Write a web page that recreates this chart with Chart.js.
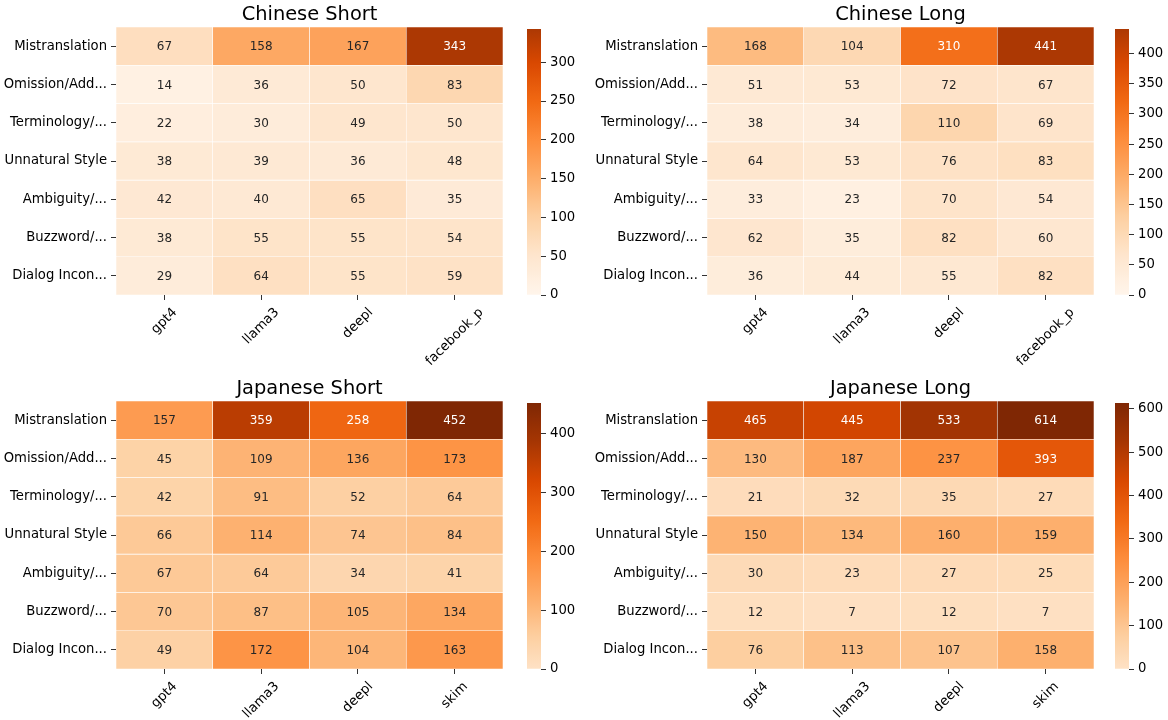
<!DOCTYPE html>
<html>
<head>
<meta charset="utf-8">
<script src="https://cdn.jsdelivr.net/npm/chart.js@4.4.1/dist/chart.umd.min.js"></script>
<style>
  html, body { margin: 0; padding: 0; background: #fff; width: 1168px; height: 720px; overflow: hidden; }
  canvas { position: absolute; }
</style>
</head>
<body>
<script>
// ---- data -------------------------------------------------------------
const errorTypes = ['Mistranslation', 'Omission/Add...', 'Terminology/...', 'Unnatural Style',
                    'Ambiguity/...', 'Buzzword/...', 'Dialog Incon...'];
const systemsZh = ['gpt4', 'llama3', 'deepl', 'facebook_p'];
const systemsJa = ['gpt4', 'llama3', 'deepl', 'skim'];

const chineseShort = [
  [67, 158, 167, 343],
  [14, 36, 50, 83],
  [22, 30, 49, 50],
  [38, 39, 36, 48],
  [42, 40, 65, 35],
  [38, 55, 55, 54],
  [29, 64, 55, 59]
];
const chineseLong = [
  [168, 104, 310, 441],
  [51, 53, 72, 67],
  [38, 34, 110, 69],
  [64, 53, 76, 83],
  [33, 23, 70, 54],
  [62, 35, 82, 60],
  [36, 44, 55, 82]
];
const japaneseShort = [
  [157, 359, 258, 452],
  [45, 109, 136, 173],
  [42, 91, 52, 64],
  [66, 114, 74, 84],
  [67, 64, 34, 41],
  [70, 87, 105, 134],
  [49, 172, 104, 163]
];
const japaneseLong = [
  [465, 445, 533, 614],
  [130, 187, 237, 393],
  [21, 32, 35, 27],
  [150, 134, 160, 159],
  [30, 23, 27, 25],
  [12, 7, 12, 7],
  [76, 113, 107, 158]
];
// colour-bar tick spacing per panel
const colorbarSteps = { chineseShort: 50, chineseLong: 50, japaneseShort: 100, japaneseLong: 100 };

// ---- colour map (sequential oranges) -----------------------------------
const ORANGES = ['#fff5eb', '#fee6ce', '#fdd0a2', '#fdae6b', '#fd8d3c',
                 '#f16913', '#d94801', '#a63603', '#7f2704'].map(h => [
  parseInt(h.slice(1, 3), 16), parseInt(h.slice(3, 5), 16), parseInt(h.slice(5, 7), 16)]);

function cmap(t) {
  t = Math.max(0, Math.min(1, t));
  const s = t * (ORANGES.length - 1);
  const i = Math.min(ORANGES.length - 2, Math.floor(s));
  const f = s - i;
  return ORANGES[i].map((c, k) => c + (ORANGES[i + 1][k] - c) * f);
}
const rgbStr = c => `rgb(${Math.round(c[0])},${Math.round(c[1])},${Math.round(c[2])})`;
function luminance(c) {
  const lin = c.map(v => { v /= 255; return v <= 0.03928 ? v / 12.92 : Math.pow((v + 0.055) / 1.055, 2.4); });
  return 0.2126 * lin[0] + 0.7152 * lin[1] + 0.0722 * lin[2];
}

// ---- layout constants --------------------------------------------------
const FONT = "'DejaVu Sans', sans-serif";
const TICK_SIZE = 13.2, CELL_SIZE = 12;
const Y_AXIS_W = 116, TITLE_H = 27, PAD_R = 12, CB_AXIS_W = 50;

Chart.defaults.font.family = FONT;
Chart.defaults.color = '#000';

function addCanvas(left, top, w, h) {
  const c = document.createElement('canvas');
  c.width = w; c.height = h;
  c.style.left = left + 'px'; c.style.top = top + 'px';
  c.style.width = w + 'px'; c.style.height = h + 'px';
  document.body.appendChild(c);
  return c;
}

const panels = [
  { title: 'Chinese Short', values: chineseShort, columns: systemsZh, step: colorbarSteps.chineseShort,
    area: { left: 116, top: 27, right: 503, bottom: 295 }, cbar: { left: 527, right: 541 }, xAxisH: 75, lo: 0, hi: 0.86 },
  { title: 'Chinese Long', values: chineseLong, columns: systemsZh, step: colorbarSteps.chineseLong,
    area: { left: 707, top: 27, right: 1094, bottom: 295 }, cbar: { left: 1115, right: 1129 }, xAxisH: 75, lo: 0, hi: 0.86 },
  { title: 'Japanese Short', values: japaneseShort, columns: systemsJa, step: colorbarSteps.japaneseShort,
    area: { left: 116, top: 401, right: 503, bottom: 669 }, cbar: { left: 527, right: 541 }, xAxisH: 50, lo: 0.15, hi: 1 },
  { title: 'Japanese Long', values: japaneseLong, columns: systemsJa, step: colorbarSteps.japaneseLong,
    area: { left: 707, top: 401, right: 1094, bottom: 669 }, cbar: { left: 1115, right: 1129 }, xAxisH: 50, lo: 0.15, hi: 1 }
];

function drawHeatmap(p) {
  const vmax = Math.max(...p.values.flat());
  const colorOf = v => cmap(p.lo + (v / vmax) * (p.hi - p.lo));
  const a = p.area;
  const canvas = addCanvas(a.left - Y_AXIS_W, a.top - TITLE_H,
                           Y_AXIS_W + (a.right - a.left) + PAD_R, TITLE_H + (a.bottom - a.top) + p.xAxisH);

  // one floating-bar dataset per error type, spanning [row, row + 1] on the value axis
  const datasets = p.values.map((row, r) => ({
    data: row.map(() => [r, r + 1]),
    backgroundColor: row.map(v => rgbStr(colorOf(v))),
    borderColor: '#ffffff',
    borderWidth: 0.6,
    borderSkipped: false,
    grouped: false,
    barPercentage: 1,
    categoryPercentage: 1
  }));

  const cellText = {
    id: 'cellText',
    afterDatasetsDraw(chart) {
      const ctx = chart.ctx;
      ctx.save();
      ctx.font = `${CELL_SIZE}px ${FONT}`;
      ctx.textAlign = 'center';
      ctx.textBaseline = 'middle';
      chart.data.datasets.forEach((ds, r) => {
        chart.getDatasetMeta(r).data.forEach((bar, c) => {
          const v = p.values[r][c];
          ctx.fillStyle = luminance(colorOf(v)) > 0.408 ? '#262626' : '#ffffff';
          ctx.fillText(String(v), bar.x, (bar.y + bar.base) / 2 + 1);
        });
      });
      ctx.restore();
    }
  };

  // column names rotated 45 degrees, centred under each tick
  const rotatedLabels = {
    id: 'rotatedLabels',
    afterDraw(chart) {
      const xs = chart.scales.x;
      const ctx = chart.ctx;
      ctx.save();
      ctx.font = `${TICK_SIZE}px ${FONT}`;
      ctx.fillStyle = '#000';
      ctx.textAlign = 'center';
      ctx.textBaseline = 'middle';
      p.columns.forEach((lab, i) => {
        const px = xs.getPixelForTick(i);
        const w = ctx.measureText(lab).width;
        const d = (w + TICK_SIZE * 1.16) * Math.SQRT1_2;
        ctx.save();
        ctx.translate(px, xs.top + 10 + d / 2);
        ctx.rotate(-Math.PI / 4);
        ctx.fillText(lab, 0, 0);
        ctx.restore();
      });
      ctx.restore();
    }
  };

  new Chart(canvas, {
    type: 'bar',
    data: { labels: p.columns, datasets },
    options: {
      responsive: false, animation: false, devicePixelRatio: 1,
      layout: { padding: { right: PAD_R } },
      plugins: {
        legend: { display: false },
        tooltip: { enabled: false },
        title: {
          display: true, text: p.title, fullSize: false, color: '#000',
          font: { size: 19.4, weight: 'normal', lineHeight: '23px' },
          padding: { top: 3, bottom: 1 }
        }
      },
      scales: {
        x: {
          type: 'category', offset: true,
          border: { display: false },
          grid: { drawOnChartArea: false, drawTicks: true, tickLength: 5, offset: false, color: '#333', lineWidth: 1 },
          ticks: { color: 'rgba(0,0,0,0)', minRotation: 0, maxRotation: 0, autoSkip: false, font: { size: TICK_SIZE } },
          afterFit: s => { s.height = p.xAxisH; }
        },
        y: {
          type: 'linear', min: 0, max: errorTypes.length, reverse: true,
          border: { display: false },
          grid: { drawOnChartArea: false, drawTicks: true, tickLength: 5, color: '#333', lineWidth: 1 },
          ticks: { autoSkip: false, padding: 4, color: '#000', font: { size: TICK_SIZE },
                   callback: v => errorTypes[Math.floor(v)] },
          afterBuildTicks: s => { s.ticks = errorTypes.map((_, i) => ({ value: i + 0.5 })); },
          afterFit: s => { s.width = Y_AXIS_W; }
        }
      }
    },
    plugins: [cellText, rotatedLabels]
  });

  drawColorbar(p, vmax);
}

function drawColorbar(p, vmax) {
  const a = p.area, cb = p.cbar;
  const padL = 4, padT = 10, padB = 12;
  const canvas = addCanvas(cb.left - padL, a.top - padT,
                           padL + (cb.right - cb.left) + CB_AXIS_W, padT + (a.bottom - a.top) + padB);
  new Chart(canvas, {
    type: 'bar',
    data: {
      labels: [''],
      datasets: [{
        data: [[0, vmax]],
        borderWidth: 0,
        barPercentage: 1,
        categoryPercentage: 1,
        backgroundColor: (ctx) => {
          const chart = ctx.chart, ys = chart.scales.y;
          if (!chart.chartArea || !ys) return rgbStr(cmap(p.lo));
          const g = chart.ctx.createLinearGradient(0, ys.getPixelForValue(0), 0, ys.getPixelForValue(vmax));
          const n = 64;
          for (let k = 0; k <= n; k++) g.addColorStop(k / n, rgbStr(cmap(p.lo + (k / n) * (p.hi - p.lo))));
          return g;
        }
      }]
    },
    options: {
      responsive: false, animation: false, devicePixelRatio: 1,
      layout: { padding: { left: padL, top: padT, bottom: padB, right: 0 } },
      plugins: { legend: { display: false }, tooltip: { enabled: false } },
      scales: {
        x: { display: false },
        y: {
          position: 'right', min: 0, max: vmax,
          border: { display: false },
          grid: { drawOnChartArea: false, drawTicks: true, tickLength: 5, color: '#333', lineWidth: 1 },
          ticks: { stepSize: p.step, includeBounds: false, autoSkip: false, padding: 4, color: '#000', font: { size: TICK_SIZE } },
          afterFit: s => { s.width = CB_AXIS_W; }
        }
      }
    }
  });
}

panels.forEach(drawHeatmap);
</script>
</body>
</html>
